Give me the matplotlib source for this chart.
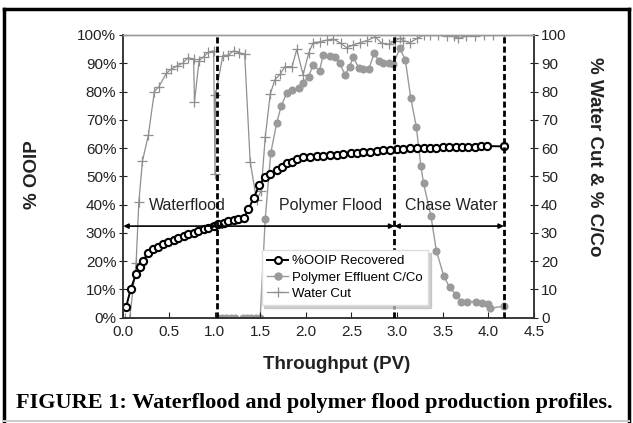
import numpy as np
import matplotlib.pyplot as plt
from matplotlib.lines import Line2D

plt.rcParams['font.family'] = ['Liberation Sans', 'DejaVu Sans']

# %OOIP recovered (left axis)
ooip_pv = [0.03, 0.08, 0.14, 0.18, 0.22, 0.27, 0.33, 0.38, 0.44, 0.49, 0.55, 0.60,
           0.66, 0.71, 0.77, 0.82, 0.88, 0.93, 0.99, 1.04, 1.10, 1.15, 1.21, 1.26,
           1.32, 1.37, 1.43, 1.49, 1.55, 1.61, 1.68, 1.74, 1.79, 1.85, 1.90, 1.97,
           2.05, 2.12, 2.19, 2.27, 2.34, 2.41, 2.49, 2.56, 2.63, 2.70, 2.78, 2.85,
           2.92, 3.00, 3.07, 3.14, 3.22, 3.29, 3.36, 3.43, 3.50, 3.57, 3.64, 3.71,
           3.78, 3.85, 3.92, 3.99, 4.17]
ooip = [3.7, 10.0, 15.5, 18.0, 20.2, 23.0, 24.2, 25.1, 26.1, 26.9, 27.5, 28.3,
        28.9, 29.5, 30.1, 30.7, 31.3, 31.8, 32.4, 33.0, 33.6, 34.2, 34.6, 34.9,
        35.2, 38.3, 42.4, 46.9, 49.7, 50.8, 52.2, 53.4, 54.6, 55.2, 56.0, 56.7,
        57.0, 57.2, 57.2, 57.4, 57.5, 57.8, 58.1, 58.4, 58.6, 58.7, 59.0, 59.2,
        59.3, 59.6, 59.8, 59.9, 60.0, 60.1, 60.2, 60.2, 60.3, 60.3, 60.4, 60.4,
        60.5, 60.5, 60.6, 60.7, 60.6]

# polymer effluent C/Co (right axis)
eff_pv = [1.04, 1.08, 1.13, 1.18, 1.22, 1.31, 1.36, 1.40, 1.45, 1.50,
          1.555, 1.615, 1.68, 1.73, 1.79, 1.85, 1.92, 1.97, 2.03, 2.08, 2.15,
          2.19, 2.27, 2.32, 2.37, 2.43, 2.48, 2.52, 2.58, 2.63, 2.69, 2.75,
          2.80, 2.85, 2.91, 2.96, 3.03, 3.09, 3.15, 3.21, 3.26, 3.29, 3.37,
          3.43, 3.51, 3.575, 3.65, 3.70, 3.77, 3.86, 3.93, 4.00, 4.02, 4.17]
eff = [0, 0, 0, 0, 0, 0, 0, 0, 0, 0,
       34.9, 58.1, 68.8, 74.9, 79.4, 80.5, 81.1, 83.1, 85.3, 89.4, 87.4,
       92.9, 92.6, 92.3, 90.0, 85.9, 88.8, 92.3, 88.2, 87.9, 87.9, 93.7,
       90.8, 90.2, 90.0, 89.7, 95.3, 91.2, 77.6, 67.6, 53.8, 47.5, 36.1,
       23.7, 14.9, 10.7, 8.0, 5.7, 5.7, 5.7, 5.3, 4.8, 3.3, 4.1]

# water cut (right axis)
wc_pv = [0.02, 0.07, 0.14, 0.17, 0.21, 0.275, 0.34, 0.39, 0.47, 0.52, 0.585,
         0.65, 0.71, 0.77, 0.78, 0.83, 0.88, 0.93, 0.99, 1.005, 1.01, 1.09,
         1.15, 1.21, 1.27, 1.33, 1.39, 1.46, 1.51, 1.555, 1.61, 1.66, 1.72,
         1.77, 1.85, 1.90, 1.97, 2.03, 2.08, 2.16, 2.23, 2.30, 2.38, 2.45,
         2.52, 2.595, 2.67, 2.76, 2.83, 2.91, 2.98, 3.03, 3.07, 3.14, 3.22,
         3.29, 3.36, 3.45, 3.55, 3.62, 3.67, 3.75, 3.85, 3.95, 4.05, 4.17]
wc = [0, 0, 19.2, 40.8, 55.5, 64.6, 80.0, 81.7, 86.4, 87.8, 89.0,
      90.0, 92.0, 91.4, 76.4, 90.9, 92.3, 93.9, 94.4, 51.0, 78.8, 92.7,
      92.9, 94.4, 93.7, 93.2, 55.2, 41.6, 44.8, 63.8, 79.1, 84.1, 86.2,
      88.8, 88.8, 94.9, 85.9, 93.5, 97.3, 97.6, 98.2, 98.6, 97.1, 95.5,
      96.5, 97.3, 98.0, 99.4, 97.1, 96.7, 98.0, 98.8, 98.0, 97.3, 98.8,
      100, 100, 100, 99.5, 99.5, 98.8, 99.5, 99.7, 100, 100, 100]

phase_bounds = [0, 1.024, 2.97, 4.17]
phase_names = ['Waterflood', 'Polymer Flood', 'Chase Water']
phase_label_x = [0.70, 2.27, 3.60]
arrow_level = 32.4

fig = plt.figure(figsize=(6.33, 4.23), dpi=100)
ax = fig.add_axes([0.1948, 0.2489, 0.6488, 0.6684])
ax2 = ax.twinx()
ax.set_zorder(ax2.get_zorder() + 1)
ax.patch.set_visible(False)

ax2.plot(eff_pv, eff, '-o', color='#9a9a9a', lw=1, ms=4.8, mfc='#9a9a9a', mec='#9a9a9a')
ax2.plot(wc_pv, wc, '-+', color='#8f8f8f', lw=0.9, ms=6.5, mew=0.9)
ax.plot(ooip_pv, ooip, '-o', color='black', lw=1.4, ms=5.2, mfc='white', mec='black', mew=1.5)

for b in phase_bounds[1:]:
    ax.plot([b, b], [0, 100], color='black', lw=2, ls=(0, (2.2, 1.1)), zorder=4)

for i in range(3):
    ax.annotate('', xy=(phase_bounds[i + 1], arrow_level), xytext=(phase_bounds[i], arrow_level),
                arrowprops=dict(arrowstyle='<|-|>', color='black', lw=1.2,
                                mutation_scale=7, shrinkA=0, shrinkB=0))
    ax.text(phase_label_x[i], 39.8, phase_names[i], ha='center', va='center', fontsize=11.5,
            color='#222222')

for a in (ax, ax2):
    a.set_xlim(0, 4.5)
    a.set_ylim(0, 100)
    for s in ('left', 'right', 'bottom'):
        a.spines[s].set_color('#333333')
        a.spines[s].set_linewidth(1.1)
    a.spines['top'].set_color('#999999')
    a.spines['top'].set_linewidth(1)

ax.set_xticks(np.arange(0, 4.51, 0.5))
ax.set_xticklabels([f'{v:.1f}' for v in np.arange(0, 4.51, 0.5)])
ax.set_yticks(range(0, 101, 10))
ax.set_yticklabels([f'{v}%' for v in range(0, 101, 10)])
ax2.set_yticks(range(0, 101, 10))
ax2.set_yticklabels([str(v) for v in range(0, 101, 10)])
ax.tick_params(axis='x', direction='in', length=4, labelsize=11, colors='#222222', pad=5)
ax.tick_params(axis='y', direction='inout', length=6, labelsize=11, colors='#222222', pad=2)
ax2.tick_params(axis='y', direction='inout', length=6, labelsize=11, colors='#222222', pad=2)

ax.set_xlabel('Throughput (PV)', fontsize=13.5, fontweight='bold', color='#222222')
ax.xaxis.set_label_coords(0.52, -0.135)
ax.set_ylabel('% OOIP', fontsize=13.5, fontweight='bold', color='#222222')
ax.yaxis.set_label_coords(-0.2, 0.505)
ax2.set_ylabel('% Water Cut & % C/Co', fontsize=13.5, fontweight='bold', color='#222222',
               rotation=-90, va='center')
ax2.yaxis.set_label_coords(1.148, 0.568)

handles = [Line2D([], [], color='black', lw=1.4, marker='o', ms=5, mfc='white', mec='black', mew=1.5),
           Line2D([], [], color='#9a9a9a', lw=1, marker='o', ms=5, mfc='#9a9a9a', mec='#9a9a9a'),
           Line2D([], [], color='#8f8f8f', lw=0.9, marker='+', ms=7, mew=0.9)]
leg = ax.legend(handles, ['%OOIP Recovered', 'Polymer Effluent C/Co', 'Water Cut'],
                loc='lower left', bbox_to_anchor=(0.337, 0.045), borderaxespad=0,
                fontsize=9.5, fancybox=False, framealpha=1, edgecolor='#dddddd',
                handlelength=1.6, handletextpad=0.3, labelspacing=0.3,
                shadow={'color': '#bbbbbb', 'alpha': 0.7})
leg.set_zorder(10)

fig.text(16 / 633, 1 - 403 / 423, 'FIGURE 1: Waterflood and polymer flood production profiles.',
         family='Liberation Serif', fontweight='bold', fontsize=16, ha='left', va='center')

# outer frame
fig.add_artist(Line2D([4 / 633, 4 / 633], [2 / 423, 1 - 9 / 423], color='black', lw=2.5, transform=fig.transFigure))
fig.add_artist(Line2D([4 / 633, 629 / 633], [1 - 9 / 423, 1 - 9 / 423], color='black', lw=2.5, transform=fig.transFigure))
fig.add_artist(Line2D([629 / 633, 629 / 633], [2 / 423, 1 - 9 / 423], color='black', lw=2.5, transform=fig.transFigure))
fig.add_artist(Line2D([4 / 633, 629 / 633], [2 / 423, 2 / 423], color='#cccccc', lw=1.5, transform=fig.transFigure))

fig.savefig('out.png', dpi=100)
